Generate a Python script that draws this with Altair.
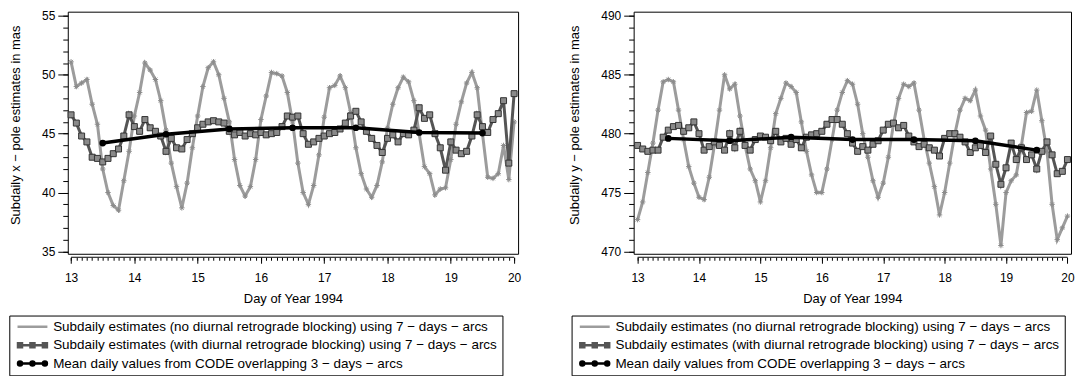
import altair as alt
import pandas as pd

FONT = "Liberation Sans"

# sampling epochs: every 2 hours from day 13.0 to day 20.0
SUB_DAYS = [13 + k / 12 for k in range(85)]
MEAN_DAYS = [13.5, 14.5, 15.5, 16.5, 17.5, 18.5, 19.5]

X_NOBLOCK = [51.1, 49.0, 49.3, 49.6, 47.5, 45.8, 42.0, 40.0, 38.9, 38.5, 41.0, 43.5,
             46.5, 48.5, 51.0, 50.4, 49.6, 47.8, 45.3, 42.5, 40.5, 38.7, 40.8, 43.8,
             46.5, 49.0, 50.6, 51.1, 50.0, 48.0, 46.0, 42.8, 40.6, 39.7, 40.5, 42.8,
             46.2, 48.2, 50.2, 50.1, 49.9, 48.5, 46.0, 42.5, 40.0, 39.0, 40.6, 43.2,
             46.4, 48.9, 49.1, 49.9, 48.9, 46.8, 43.8, 41.6, 40.3, 39.6, 40.6, 42.6,
             45.5, 47.5, 48.9, 49.8, 49.4, 47.8, 45.0, 42.2, 41.6, 39.8, 40.3, 40.4,
             42.8, 45.8, 47.7, 49.3, 50.2, 48.9, 45.0, 41.3, 41.2, 41.6, 44.0, 41.1,
             46.0]
X_BLOCK = [46.6, 45.9, 44.8, 44.3, 43.0, 42.9, 42.6, 42.9, 43.3, 43.7, 44.8, 46.6,
           45.6, 45.2, 46.2, 45.5, 45.2, 44.8, 43.5, 44.6, 43.8, 43.7, 44.5, 45.0,
           45.5, 45.8, 46.0, 46.1, 46.0, 45.9, 45.2, 44.9, 45.1, 44.8, 45.0, 44.9,
           45.1, 44.9, 45.0, 45.1, 45.6, 46.5, 46.4, 46.5, 45.0, 44.1, 44.3, 44.6,
           44.8, 45.0, 45.1, 45.4, 45.9, 46.5, 46.9, 46.0, 45.2, 44.6, 44.0, 43.4,
           44.6, 44.9, 44.3, 45.0, 44.9, 45.3, 47.2, 46.3, 46.6, 45.0, 43.8, 41.9,
           44.3, 43.6, 43.3, 43.5, 44.8, 46.6, 45.6, 45.1, 46.2, 46.7, 47.8, 42.5,
           48.4]
X_MEAN = [44.2, 44.95, 45.4, 45.5, 45.5, 45.1, 45.05]

Y_NOBLOCK = [472.7, 474.2, 476.7, 479.2, 482.0, 484.4, 484.6, 484.4, 482.0, 479.5, 477.2, 475.8,
             474.6, 474.4, 476.3, 479.0, 482.0, 485.0, 483.8, 484.2, 481.5, 479.0, 477.0, 476.0,
             474.2, 476.0, 478.8, 481.7, 483.0, 484.3, 484.0, 483.5, 481.0, 478.5, 476.5, 475.0,
             475.0, 477.0, 479.5, 482.0, 483.5, 484.5, 484.2, 482.5, 480.0, 478.0, 476.0, 474.6,
             475.8, 478.0, 480.8, 483.0, 484.2, 484.0, 484.3, 482.0, 479.5, 477.5, 475.5, 473.1,
             475.0, 477.5, 480.0, 482.0, 483.0, 482.8, 483.7, 481.5, 480.3, 477.0, 474.0, 470.5,
             475.0, 476.0, 476.5, 479.0, 481.8, 481.9, 483.7, 481.1, 478.5, 474.0, 471.0, 472.0,
             473.0]
Y_BLOCK = [479.0, 478.7, 478.5, 478.6, 478.6, 479.7, 480.3, 480.6, 480.7, 480.2, 480.5, 481.0,
           480.0, 478.6, 478.9, 479.3, 479.0, 478.6, 480.0, 478.8, 480.2, 479.0, 478.6, 479.5,
           479.8, 479.7, 479.4, 480.2, 479.3, 479.6, 479.1, 479.5, 478.8, 479.7, 479.9, 480.0,
           480.2, 480.8, 481.2, 481.2, 480.8, 480.0, 479.2, 478.5, 478.9, 478.6, 479.1, 479.4,
           480.3, 480.8, 480.9, 480.5, 480.7, 479.8, 479.3, 478.9, 479.1, 478.8, 478.6, 478.1,
           479.6, 480.0, 480.0, 479.7, 479.3, 478.4, 478.8, 479.0, 478.4, 479.8, 477.4, 475.7,
           477.1, 479.2, 477.8, 478.8, 477.8, 478.2, 477.0, 478.5, 479.3, 478.2, 476.6, 476.8,
           477.8]
Y_MEAN = [479.6, 479.4, 479.7, 479.5, 479.5, 479.4, 478.6]

LABELS = [
    "Subdaily estimates (no diurnal retrograde blocking) using 7 − days − arcs",
    "Subdaily estimates (with diurnal retrograde blocking) using 7 − days − arcs",
    "Mean daily values from CODE overlapping 3 − days − arcs",
]
COLORS = ["#9c9c9c", "#555555", "#000000"]

X_TITLE = "Day of Year 1994"
X_MAJOR = [13, 14, 15, 16, 17, 18, 19, 20]
X_MINOR = [13 + k / 12 for k in range(85)]
Y_TITLE_X = "Subdaily x − pole estimates in mas"
Y_TITLE_Y = "Subdaily y − pole estimates in mas"
Y_MAJOR_X = [35, 40, 45, 50, 55]
Y_MINOR_X = list(range(35, 56))
Y_MAJOR_Y = [470, 475, 480, 485, 490]
Y_MINOR_Y = list(range(470, 491))

HEIGHT = 243
XOFF = 3.5

STAR = "M-1,0H1M0,-1V1M-0.7,-0.7L0.7,0.7M-0.7,0.7L0.7,-0.7"
LEG_P0 = "M-0.6,0H5.4"
LEG_P1 = ("M-0.6,0H5.4M-0.5,-0.4h0.8v0.8h-0.8zM2,-0.4h0.8v0.8h-0.8z"
          "M4.5,-0.4h0.8v0.8h-0.8z")
LEG_P2 = ("M-0.6,0H5.4M-0.5,0a0.4,0.4 0 1,0 0.8,0a0.4,0.4 0 1,0 -0.8,0"
          "M2,0a0.4,0.4 0 1,0 0.8,0a0.4,0.4 0 1,0 -0.8,0"
          "M4.5,0a0.4,0.4 0 1,0 0.8,0a0.4,0.4 0 1,0 -0.8,0")


def make_legend(lx):
    return alt.Legend(
        title=None, orient="none", legendX=lx, legendY=305, direction="vertical",
        symbolSize=100, symbolStrokeWidth=2.5, symbolOpacity=1, labelOffset=26,
        labelFont=FONT, labelFontSize=13.5, labelColor="black", labelLimit=700,
        strokeColor="black", fillColor="white", padding=4.5, rowPadding=3.5,
    )


def panel(nob, blk, mean, ydom, ymajor, yminor, ytitle, width, xdom, legend_x):
    n = len(SUB_DAYS)
    d_nob = pd.DataFrame({"day": SUB_DAYS, "v": nob, "series": [LABELS[0]] * n})
    d_blk = pd.DataFrame({"day": SUB_DAYS, "v": blk, "series": [LABELS[1]] * n})
    d_mn = pd.DataFrame({"day": MEAN_DAYS, "v": mean, "series": [LABELS[2]] * len(MEAN_DAYS)})
    d_all = pd.concat([d_nob, d_blk, d_mn], ignore_index=True)
    xs = alt.Scale(domain=xdom, nice=False, zero=False)
    ys = alt.Scale(domain=ydom, nice=False, zero=False)
    cs = alt.Scale(domain=LABELS, range=COLORS)
    ss = alt.Scale(domain=LABELS, range=[LEG_P0, LEG_P1, LEG_P2])

    x_major = alt.Axis(orient="bottom", values=X_MAJOR, format="d", offset=XOFF, domain=False,
                       grid=False, tickSize=6, tickColor="black", tickWidth=1, labelPadding=9,
                       labelFont=FONT, labelFontSize=12, labelColor="black", labelFlush=False,
                       labelOverlap=False, title=X_TITLE, titleFont=FONT, titleFontSize=13,
                       titleFontWeight="normal", titleColor="black", titlePadding=9)
    x_minor = alt.Axis(orient="bottom", values=X_MINOR, offset=XOFF, domain=False, grid=False,
                       tickSize=3, tickColor="black", tickWidth=1, labels=False, title=None)
    y_major = alt.Axis(orient="left", values=ymajor, format="d", offset=0, domain=False,
                       grid=False, tickSize=10, tickColor="black", tickWidth=1, labelPadding=3,
                       labelFont=FONT, labelFontSize=12, labelColor="black", labelOverlap=False,
                       labelFlush=False, title=ytitle, titleFont=FONT, titleFontSize=13,
                       titleFontWeight="normal", titleColor="black", titlePadding=19.3,
                       titleY=113.5)
    y_minor = alt.Axis(orient="left", values=yminor, offset=0, domain=False, grid=False,
                       tickSize=5, tickColor="black", tickWidth=1, labels=False, title=None)

    gray_line = alt.Chart(d_nob).mark_line(strokeWidth=3, color=COLORS[0]).encode(
        x=alt.X("day:Q", scale=xs, axis=x_major),
        y=alt.Y("v:Q", scale=ys, axis=y_major))
    gray_pts = alt.Chart(d_nob).mark_point(shape=STAR, filled=False, size=30, strokeWidth=1,
                                           color="#8c8c8c", opacity=1).encode(
        x=alt.X("day:Q", scale=xs, axis=None), y=alt.Y("v:Q", scale=ys, axis=None))
    dark_line = alt.Chart(d_blk).mark_line(strokeWidth=3, color=COLORS[1]).encode(
        x=alt.X("day:Q", scale=xs, axis=None),
        y=alt.Y("v:Q", scale=ys, axis=y_minor))
    dark_pts = alt.Chart(d_blk).mark_square(size=36, fill="#8a8a8a", stroke="#333333",
                                            strokeWidth=1, opacity=1).encode(
        x=alt.X("day:Q", scale=xs, axis=None), y=alt.Y("v:Q", scale=ys, axis=None))
    mean_line = alt.Chart(d_mn).mark_line(strokeWidth=3.5, color=COLORS[2]).encode(
        x=alt.X("day:Q", scale=xs, axis=None), y=alt.Y("v:Q", scale=ys, axis=None))
    mean_pts = alt.Chart(d_mn).mark_circle(size=45, color="black", opacity=1).encode(
        x=alt.X("day:Q", scale=xs, axis=None), y=alt.Y("v:Q", scale=ys, axis=None))
    x_rule = alt.Chart(pd.DataFrame({"d0": [X_MAJOR[0]], "d1": [X_MAJOR[-1]]})).mark_rule(
        color="black", strokeWidth=1).encode(
        x=alt.X("d0:Q", scale=xs, axis=x_minor), x2="d1:Q", y=alt.value(HEIGHT + XOFF))
    # legend-carrying layer: zero-size marks, the legend symbols get their own size
    legend_layer = alt.Chart(d_all).mark_point(filled=False, size=0, strokeWidth=0).encode(
        x=alt.X("day:Q", scale=xs, axis=None), y=alt.Y("v:Q", scale=ys, axis=None),
        color=alt.Color("series:N", scale=cs, legend=make_legend(legend_x)),
        shape=alt.Shape("series:N", scale=ss, legend=make_legend(legend_x)))

    return alt.layer(gray_line, gray_pts, dark_line, dark_pts, mean_line, mean_pts, x_rule,
                     legend_layer).resolve_axis(
        x="independent", y="independent").properties(width=width, height=HEIGHT)


left = panel(X_NOBLOCK, X_BLOCK, X_MEAN, [34.8, 55.36], Y_MAJOR_X, Y_MINOR_X, Y_TITLE_X,
             452, [12.948, 20.063], -58.7)
right = panel(Y_NOBLOCK, Y_BLOCK, Y_MEAN, [469.8, 490.36], Y_MAJOR_Y, Y_MINOR_Y, Y_TITLE_Y,
              439, [12.936, 20.058], -62.3)

chart = alt.hconcat(left, right, spacing=46).resolve_scale(
    color="independent", shape="independent").properties(
    padding={"left": 0, "top": 0, "right": 0, "bottom": 0}, background="white"
).configure_view(stroke="black", strokeWidth=1)

chart.save("out.html", embed_options={"renderer": "svg", "actions": False})
